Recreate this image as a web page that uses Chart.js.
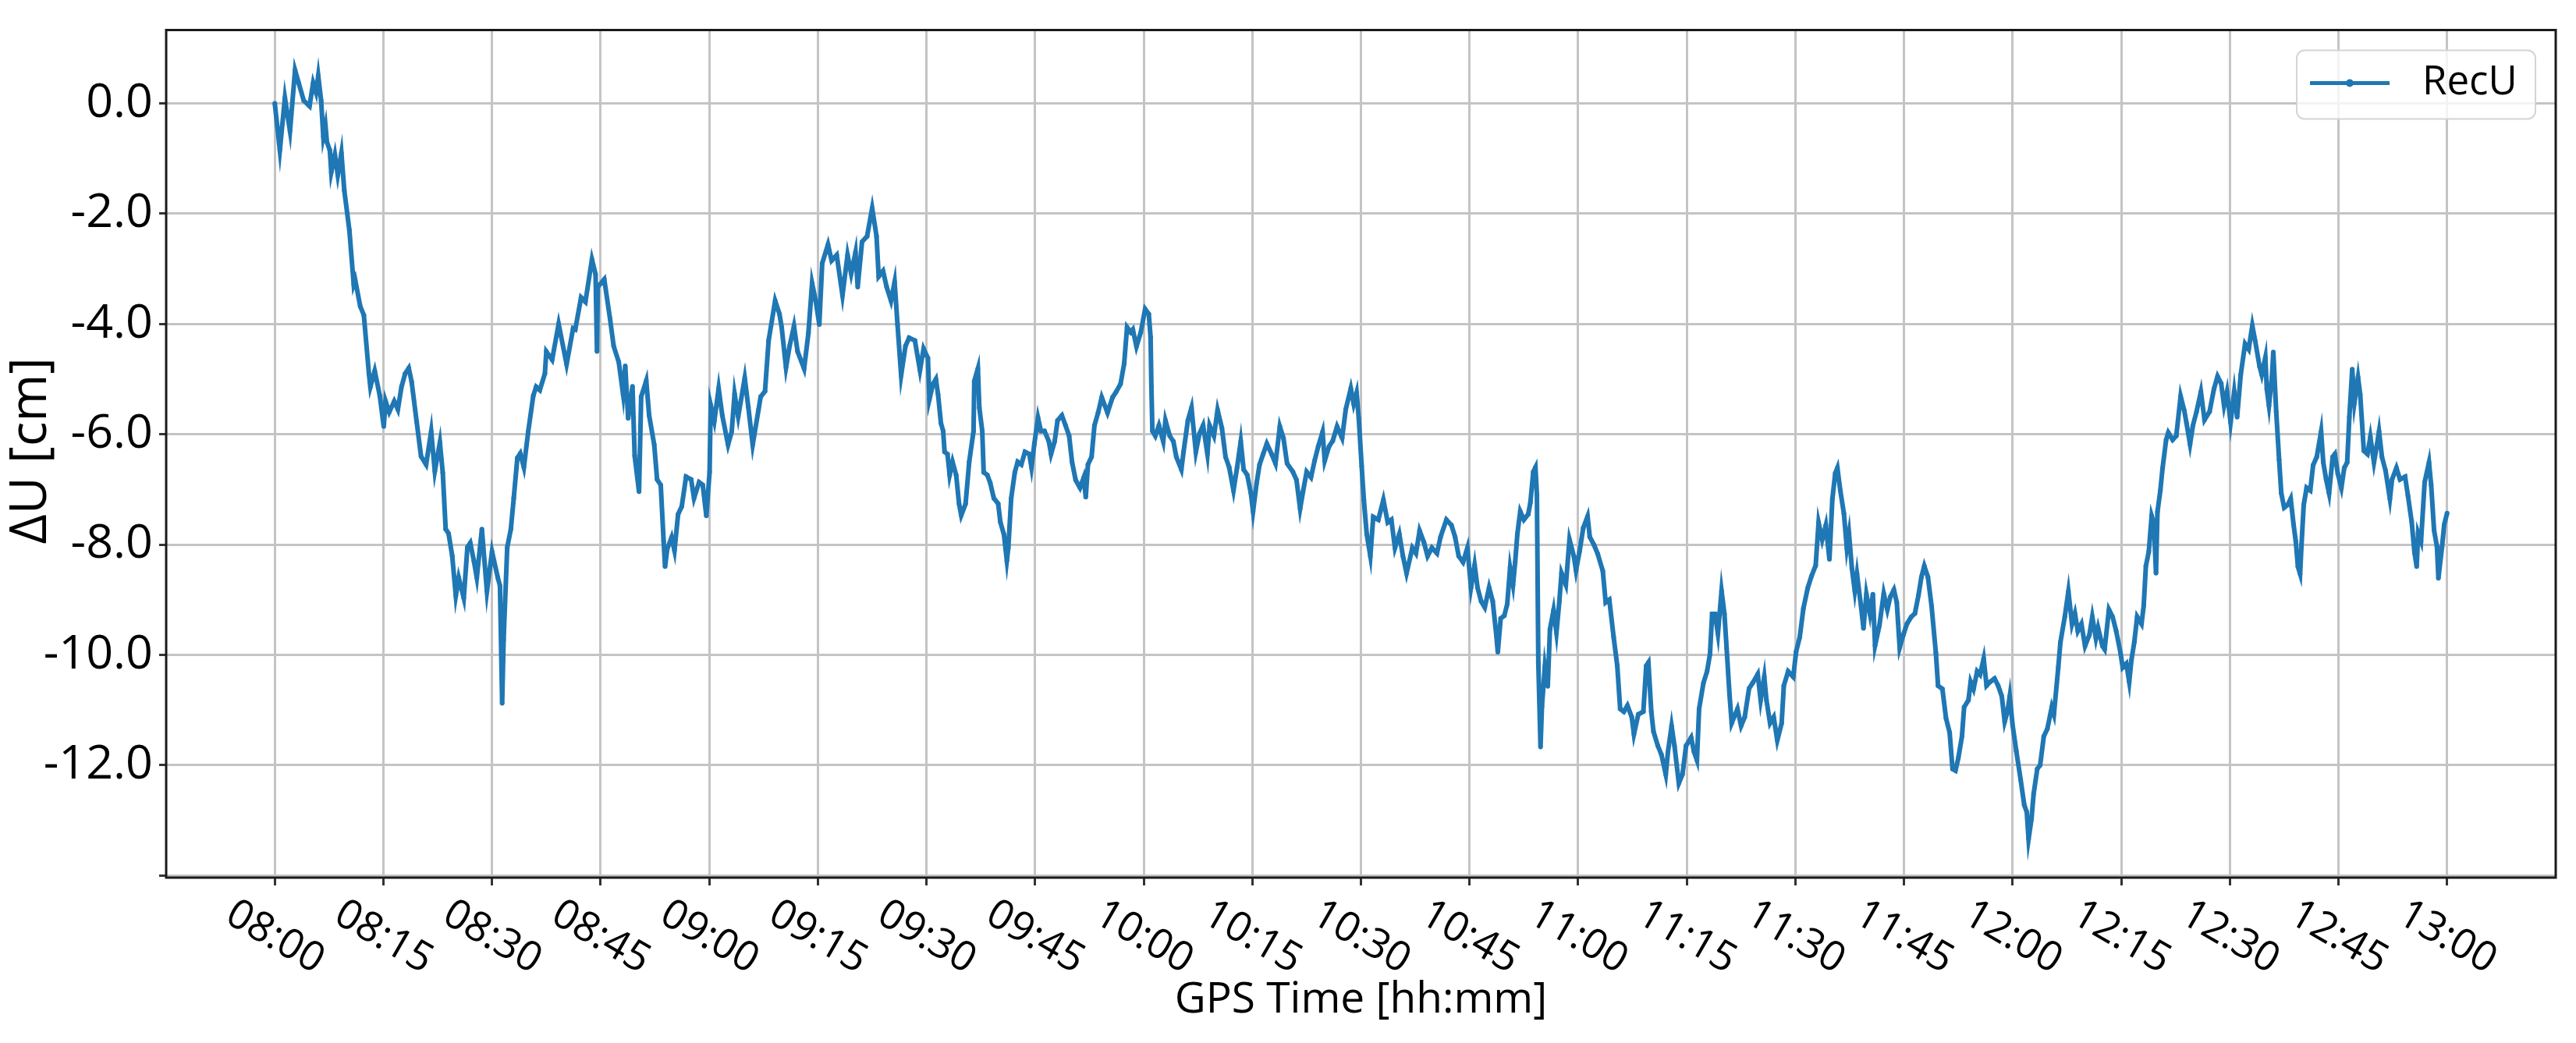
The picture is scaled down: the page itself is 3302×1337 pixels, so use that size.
<!DOCTYPE html>
<html>
<head>
<meta charset="utf-8">
<script src="https://cdn.jsdelivr.net/npm/chart.js@4"></script>
<style>
html,body{margin:0;padding:0;background:#fff}
canvas{display:block}
</style>
</head>
<body>
<canvas id="chart" width="3302" height="1337"></canvas>
<script>
// minutes after 08:00 and RecU [cm]
const minA = [0,0.7,1.4,2.1,2.8,3.3,4.0,4.8,5.3,5.7,
6.0,6.4,6.7,7.0,7.2,7.6,7.8,8.3,8.7,9.2,
9.6,10.3,10.9,11.1,11.8,12.3,13.0,13.2,13.8,14.5,
15.05,15.3,15.8,16.5,17.0,17.5,18.0,18.5,18.9,19.6,
20.2,20.9,21.6,22.1,22.8,23.2,23.6,24.0,24.5,25.0,
25.4,26.1,26.6,27.0,27.5,27.9,28.6,29.3,30.0,30.8,
31.1,31.4,31.6,32.1,32.6,33.0,33.5,33.9,34.4,35.0,
35.7,36.1,36.6,37.3,37.5,38.3,39.2,40.3,41.2,41.5,
42.3,42.9,43.8,44.3]
const recUA = [0,-0.85,0.1,-0.5,0.6,0.37,0.05,-0.05,0.37,0.2,
0.5,0.05,-0.6,-0.4,-0.7,-0.85,-1.25,-0.93,-1.3,-0.9,
-1.58,-2.3,-3.28,-3.2,-3.68,-3.84,-4.9,-5.14,-4.85,-5.3,
-5.86,-5.4,-5.6,-5.4,-5.55,-5.14,-4.9,-4.8,-5.05,-5.78,
-6.4,-6.55,-5.95,-6.67,-6.15,-6.7,-7.72,-7.8,-8.2,-8.93,
-8.6,-8.97,-8.05,-7.97,-8.3,-8.6,-7.72,-8.85,-8.13,-8.6,
-8.75,-10.88,-9.73,-8.05,-7.72,-7.16,-6.43,-6.35,-6.6,-5.95,
-5.3,-5.14,-5.2,-4.9,-4.5,-4.65,-4.0,-4.73,-4.08,-4.1,
-3.52,-3.6,-2.83,-3.1]

const minB = [44.5,44.6,45.5,46.3,46.8,47.5,48.1,48.4,48.8,49.4,
49.7,50.3,50.6,51.3,51.7,52.4,52.8,53.3,53.7,53.9,
54.2,54.8,55.2,55.7,56.2,56.8,57.5,57.9,58.6,59.1,
59.6,60.05,60.2,60.7,61.3,61.8,62.6,63.1,63.5,64.0,
64.9,65.4,66.0,66.8,67.1,67.7,68.2,69.1,69.7,70.0,
70.6,71.1,71.7,72.2,73.1,73.7,74.2,74.7,75.2,75.6,
76.4,76.9,77.6,78.4,79.1,79.6,80.2,80.5,81.1,81.8,
82.5,83.1,83.4,84.0,84.5,85.1,85.6,86.0,86.5,87.1,
87.6,88.4,89.1,89.6]
const recUB = [-4.5,-3.33,-3.19,-3.91,-4.4,-4.69,-5.27,-4.76,-5.71,-5.13,
-6.39,-7.04,-5.32,-5.03,-5.66,-6.19,-6.82,-6.92,-7.94,-8.40,
-8.08,-7.87,-8.11,-7.45,-7.31,-6.77,-6.82,-7.16,-6.87,-6.92,
-7.48,-6.68,-5.47,-5.76,-5.17,-5.66,-6.19,-5.95,-5.27,-5.68,
-4.98,-5.51,-6.19,-5.56,-5.32,-5.22,-4.3,-3.58,-3.82,-4.06,
-4.79,-4.4,-4.04,-4.5,-4.81,-4.16,-3.26,-3.58,-4.01,-2.9,
-2.56,-2.85,-2.75,-3.48,-2.75,-3.09,-2.70,-3.33,-2.51,-2.41,
-1.9,-2.41,-3.14,-3.04,-3.33,-3.58,-3.24,-4.01,-4.93,-4.4,
-4.25,-4.3,-4.84,-4.45]

const minC = [90.2,90.4,90.9,91.3,91.6,92.0,92.3,92.5,92.9,93.2,
93.6,94.1,94.5,94.8,95.4,95.9,96.5,96.6,97.1,97.3,
97.7,97.9,98.4,98.8,99.3,99.9,100.2,100.7,101.1,101.3,
101.7,102.2,102.6,103.1,103.6,104.2,104.5,104.9,105.4,105.8,
106.3,106.9,107.2,107.7,108.1,108.7,109.2,109.7,110.1,110.6,
111.2,111.7,112.0,112.3,112.8,113.2,113.7,114.2,115.0,115.7,
116.2,116.8,117.3,117.7,118.2,118.5,119.0,119.6,120.2,120.7,
120.95,121.06,121.2,121.6,122.1,122.7,123.0,123.6,124.1,124.5,
125.2,125.5,126.1,126.6,127.2,127.7,128.2,128.8,129.1,129.7,
130.2,130.8,131.3,131.8,132.4,132.9,133.4,133.8,134.3,134.8,
135.1,135.6,136.0,136.5]
const recUC = [-4.62,-5.37,-5.09,-5.0,-5.28,-5.8,-5.94,-6.32,-6.36,-6.74,
-6.5,-6.74,-7.26,-7.47,-7.26,-6.5,-5.94,-5.04,-4.81,-5.52,
-5.94,-6.69,-6.74,-6.88,-7.16,-7.26,-7.59,-7.82,-8.29,-8.06,
-7.16,-6.69,-6.5,-6.55,-6.32,-6.36,-6.6,-6.17,-5.70,-5.94,
-5.94,-6.13,-6.36,-6.13,-5.75,-5.66,-5.84,-6.03,-6.5,-6.83,
-6.97,-6.79,-7.14,-6.55,-6.41,-5.84,-5.61,-5.33,-5.61,-5.33,
-5.23,-5.09,-4.72,-4.06,-4.15,-4.1,-4.41,-4.15,-3.73,-3.82,
-4.24,-5.14,-5.94,-6.03,-5.84,-6.13,-5.75,-6.03,-6.13,-6.41,
-6.64,-6.32,-5.75,-5.52,-6.32,-5.99,-5.84,-6.36,-5.84,-6.03,
-5.56,-5.89,-6.41,-6.6,-7.02,-6.6,-6.13,-6.64,-6.74,-7.07,
-7.4,-6.88,-6.55,-6.36]

const minD = [137.0,137.7,138.2,138.8,139.3,139.8,140.6,141.1,141.6,142.0,
142.5,143.1,143.6,144.1,144.7,145.0,145.6,146.1,146.7,147.4,
147.9,148.6,149.0,149.4,149.7,150.1,150.4,150.8,151.3,151.7,
152.4,153.1,153.7,154.2,154.7,155.3,155.8,156.3,157.1,157.6,
158.1,158.7,159.2,159.8,160.5,161.0,161.8,162.5,163.0,163.5,
164.1,164.7,165.2,165.7,166.1,166.6,167.1,167.7,168.2,168.7,
168.9,169.3,169.8,170.2,170.6,171.0,171.3,171.6,172.0,172.5,
173.1,173.4,173.8,174.1,174.3,174.5,174.8,175.0,175.4,175.8,
176.1,176.6,177.0,177.4,177.7,178.3,178.8,179.4,179.7]
const recUD = [-6.17,-6.37,-6.53,-5.86,-6.07,-6.53,-6.68,-6.83,-7.35,-7.04,
-6.68,-6.78,-6.48,-6.22,-5.96,-6.48,-6.22,-6.12,-5.86,-6.07,
-5.55,-5.17,-5.45,-5.25,-5.71,-6.58,-7.19,-7.81,-8.21,-7.5,
-7.55,-7.19,-7.6,-7.55,-8.06,-7.81,-8.21,-8.52,-8.06,-8.16,
-7.75,-7.96,-8.21,-8.06,-8.16,-7.86,-7.55,-7.65,-7.86,-8.21,
-8.32,-8.06,-8.78,-8.37,-8.78,-9.03,-9.14,-8.78,-9.03,-9.65,
-9.95,-9.34,-9.29,-9.08,-8.42,-8.73,-8.32,-7.81,-7.4,-7.55,
-7.45,-7.24,-6.68,-6.6,-7.09,-10.16,-11.67,-10.93,-10.21,-10.57,
-9.54,-9.19,-9.6,-9.03,-8.52,-8.73,-7.91,-8.21,-8.47]

const minE = [180.2,180.7,181.3,181.6,182.2,182.7,183.4,183.8,184.3,184.9,
185.4,185.8,186.3,186.8,187.4,187.7,188.3,189.0,189.4,189.7,
190.1,190.4,191.0,191.5,192.1,192.4,192.9,193.3,193.9,194.4,
194.9,195.6,196.0,196.4,196.7,197.3,197.8,198.2,198.5,198.9,
199.3,199.8,200.2,200.5,200.9,201.2,202.0,202.5,203.0,203.6,
204.1,204.8,205.2,205.7,206.0,206.5,207.0,207.5,208.1,208.4,
209.0,209.7,210.1,210.6,211.1,211.7,212.2,212.8,213.2,213.7,
214.2,214.7,215.1,215.5,215.8,216.2,216.7,217.1,217.4,217.8,
218.2,218.5,219.1,219.4,219.8,220.3,220.7,221.0,221.6]
const recUE = [-8.12,-7.7,-7.49,-7.86,-8.01,-8.17,-8.48,-9.05,-9.0,-9.68,
-10.2,-10.98,-11.03,-10.92,-11.13,-11.44,-11.08,-11.03,-10.2,-10.14,
-11.03,-11.39,-11.65,-11.81,-12.17,-11.76,-11.29,-11.65,-12.33,-12.17,
-11.65,-11.5,-11.76,-11.91,-10.98,-10.51,-10.3,-9.99,-9.26,-9.26,
-9.62,-8.84,-9.26,-9.88,-10.72,-11.24,-10.98,-11.29,-11.13,-10.61,
-10.51,-10.35,-10.82,-10.4,-10.82,-11.24,-11.13,-11.55,-11.24,-10.56,
-10.3,-10.4,-9.94,-9.68,-9.16,-8.79,-8.58,-8.38,-7.6,-7.91,
-7.65,-8.27,-7.18,-6.71,-6.61,-7.02,-7.44,-8.06,-7.8,-8.43,
-8.84,-8.53,-9.16,-9.52,-8.9,-9.26,-8.9,-9.83,-9.47]

const minF = [222.2,222.7,223.1,223.6,224.0,224.4,224.9,225.4,226.0,226.5,
227.0,227.4,227.8,228.3,228.8,229.4,229.7,230.3,230.8,231.3,
231.7,232.1,232.5,233.0,233.3,233.9,234.2,234.6,235.1,235.5,
236.0,236.4,236.9,237.5,238.0,238.5,238.9,239.3,239.6,240.0,
240.5,241.1,241.6,241.95,242.2,242.6,242.9,243.4,243.8,244.3,
244.8,245.4,245.7,246.3,246.6,247.2,247.7,248.2,248.6,249.0,
249.5,250.0,250.6,251.0,251.5,251.8,252.4,252.7,253.3,253.8,
254.3,254.9,255.2,255.7,256.1,256.4,256.8,257.2,257.8,258.1,
258.4,258.8,259.2,259.5,259.8,260.0,260.4,260.7,261.2,261.5,
262.1,262.6,263.2,263.7]
const recUF = [-8.89,-9.18,-8.95,-8.82,-9.05,-9.87,-9.64,-9.44,-9.31,-9.25,
-8.92,-8.59,-8.39,-8.59,-9.11,-9.97,-10.56,-10.62,-11.15,-11.41,
-12.07,-12.1,-11.87,-11.48,-10.95,-10.82,-10.49,-10.62,-10.3,-10.36,
-10.07,-10.56,-10.49,-10.43,-10.56,-10.75,-11.21,-11.02,-10.75,-11.28,
-11.74,-12.26,-12.72,-12.85,-13.34,-12.98,-12.52,-12.07,-12.0,-11.48,
-11.34,-10.95,-11.08,-10.23,-9.77,-9.31,-8.85,-9.44,-9.25,-9.57,
-9.44,-9.84,-9.64,-9.31,-9.7,-9.51,-9.84,-9.9,-9.18,-9.31,
-9.57,-9.97,-10.23,-10.16,-10.49,-10.1,-9.77,-9.31,-9.44,-9.11,
-8.39,-8.13,-7.48,-7.61,-8.52,-7.41,-7.02,-6.62,-6.1,-5.97,
-6.1,-6.03,-5.31,-5.57]

const minG = [264.0,264.5,264.9,265.4,266.0,266.5,267.2,267.8,268.3,268.8,
269.2,269.6,270.1,270.6,271.0,271.5,272.1,272.6,273.1,273.5,
274.1,274.4,274.9,275.1,275.4,275.8,276.0,276.4,276.8,277.1,
277.5,278.0,278.4,278.8,279.1,279.4,279.7,279.9,280.2,280.6,
281.1,281.5,282.0,282.6,282.9,283.3,283.7,284.2,284.5,284.9,
285.4,285.8,286.2,286.5,286.9,287.2,287.7,288.0,288.5,289.0,
289.4,289.9,290.3,290.6,291.0,291.5,292.1,292.4,293.0,293.5,
294.2,294.6,295.1,295.5,295.8,296.0,296.4,296.9,297.5,297.8,
298.2,298.6,298.8,299.3,299.6,300.0]
const recUG = [-5.79,-6.18,-5.84,-5.59,-5.23,-5.74,-5.59,-5.18,-4.95,-5.08,
-5.48,-5.23,-5.79,-5.23,-5.69,-4.92,-4.36,-4.46,-4.03,-4.31,
-4.77,-4.92,-4.61,-5.18,-5.48,-4.97,-4.51,-5.59,-6.46,-7.07,
-7.33,-7.28,-7.17,-7.64,-7.94,-8.4,-8.53,-7.99,-7.28,-6.97,
-7.02,-6.56,-6.41,-5.95,-6.51,-6.82,-7.07,-6.41,-6.36,-6.71,
-6.97,-6.61,-6.51,-5.69,-4.82,-5.43,-4.97,-5.28,-6.3,-6.36,
-6.05,-6.51,-6.2,-5.95,-6.41,-6.66,-7.17,-6.82,-6.61,-6.82,
-6.77,-7.12,-7.58,-8.15,-8.4,-7.79,-7.94,-6.87,-6.51,-6.92,
-7.74,-8.04,-8.61,-8.04,-7.64,-7.43]

const tickLabels = ["08:00","08:15","08:30","08:45","09:00","09:15","09:30","09:45","10:00","10:15","10:30",
"10:45","11:00","11:15","11:30","11:45","12:00","12:15","12:30","12:45","13:00"]
const yTicks = [-14,-12,-10,-8,-6,-4,-2,0]

const minutes = [].concat(minA,minB,minC,minD,minE,minF,minG)
const recU = [].concat(recUA,recUB,recUC,recUD,recUE,recUF,recUG)
if (minutes.length !== recU.length) console.error("length mismatch", minutes.length, recU.length)

const points = minutes.map((m,i) => ({x:m, y:recU[i]}))

const BLUE = "#1f77b4"
const FONT = "'Open Sans', 'Noto Sans', sans-serif"

const decor = {
id:"decor",
afterDraw(chart){
const {ctx, chartArea:a, scales} = chart
ctx.save()

// frame
ctx.strokeStyle = "#1a1a1a"
ctx.lineWidth = 3
ctx.strokeRect(a.left, a.top, a.right-a.left, a.bottom-a.top)

// x tick labels, turned 30 degrees clockwise
ctx.fillStyle = "#000"
ctx.font = "53px " + FONT
const ang = 30*Math.PI/180
scales.x.ticks.forEach(t => {
const label = tickLabels[Math.round(t.value/15)]
const w = ctx.measureText(label).width
const h = 53*0.74
const bh = w*Math.sin(ang) + h*Math.cos(ang)
const x = scales.x.getPixelForValue(t.value)
const y = a.bottom + 26 + bh/2
ctx.save()
ctx.translate(x, y)
ctx.rotate(ang)
ctx.textAlign = "center"
ctx.textBaseline = "middle"
ctx.fillText(label, 0, 0)
ctx.restore()
})

// axis titles
ctx.font = "55px " + FONT
ctx.textAlign = "center"
ctx.textBaseline = "middle"
ctx.fillText("GPS Time [hh:mm]", (a.left+a.right)/2, 1282)
ctx.save()
ctx.translate(40, (a.top+a.bottom)/2 - 4)
ctx.rotate(-Math.PI/2)
ctx.font = "66px " + FONT
ctx.fillText("ΔU [cm]", 0, 0)
ctx.restore()

// legend box
const bw = 306, bhh = 88
const bx = a.right - 26 - bw, by = a.top + 26
ctx.beginPath()
ctx.roundRect(bx, by, bw, bhh, 10)
ctx.fillStyle = "rgba(255,255,255,0.8)"
ctx.fill()
ctx.strokeStyle = "#d4d4d4"
ctx.lineWidth = 2
ctx.stroke()
const ds = chart.data.datasets[0]
const ly = by + 42
ctx.strokeStyle = ds.borderColor
ctx.lineWidth = 5
ctx.beginPath()
ctx.moveTo(bx+17, ly)
ctx.lineTo(bx+119, ly)
ctx.stroke()
ctx.fillStyle = ds.borderColor
ctx.beginPath()
ctx.arc(bx+68, ly, 5, 0, Math.PI*2)
ctx.fill()
ctx.fillStyle = "#000"
ctx.font = "51px " + FONT
ctx.textAlign = "left"
ctx.textBaseline = "middle"
ctx.fillText(ds.label, bx+161, ly)

ctx.restore()
}
}

new Chart(document.getElementById("chart"),{
type:"line",
data:{
datasets:[{
label:"RecU",
data:points,
borderColor:BLUE,
backgroundColor:BLUE,
borderWidth:6,
pointRadius:3,
pointBorderWidth:0,
pointBackgroundColor:BLUE,
tension:0,
fill:false
}]
},
options:{
responsive:false,
animation:false,
devicePixelRatio:1,
layout:{padding:{top:33,right:26,left:0,bottom:0}},
plugins:{legend:{display:false},tooltip:{enabled:false}},
scales:{
x:{
type:"linear",
min:-15,
max:315,
afterBuildTicks:s => { s.ticks = tickLabels.map((_,i) => ({value:i*15})) },
afterFit:s => { s.height = 212 },
ticks:{display:false},
border:{display:false},
grid:{color:"#c4c4c4",lineWidth:3,tickLength:10,tickColor:"#333",tickWidth:3}
},
y:{
min:-14.04,
max:1.33,
afterBuildTicks:s => { s.ticks = yTicks.map(v => ({value:v})) },
afterFit:s => { s.width = 213 },
ticks:{
color:"#000",
padding:8,
font:{family:FONT,size:61,lineHeight:1},
callback:v => v === -14 ? "" : v.toFixed(1)
},
border:{display:false},
grid:{color:"#c4c4c4",lineWidth:3,tickLength:9,tickColor:"#333",tickWidth:3}
}
}
},
plugins:[decor]
})
</script>
</body>
</html>
